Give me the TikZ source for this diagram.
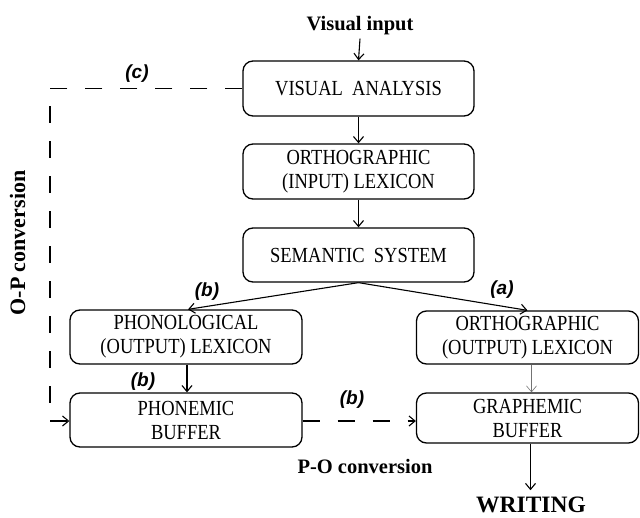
\documentclass[tikz,border=0pt]{standalone}
\usepackage{fontspec}
\setmainfont{Liberation Serif}
\newfontfamily\boxfont[FakeStretch=0.86]{Liberation Serif}
\newfontfamily\labfont{Liberation Sans}
\usetikzlibrary{arrows.meta}
\begin{document}
\begin{tikzpicture}[x=1pt,y=-1pt,
  box/.style={draw, line width=1.3pt, rounded corners=10pt, inner sep=0pt, align=center,
    font=\boxfont\fontsize{21.5}{24}\selectfont},
  arr/.style={-{Straight Barb[length=6pt,width=10pt]}, line width=1.1pt},
  dsh/.style={dash pattern=on 17pt off 18pt, line width=1.5pt},
  lab/.style={inner sep=0pt, font=\labfont\bfseries\itshape\fontsize{19}{19}\selectfont},
  ttl/.style={inner sep=0pt, font=\bfseries\fontsize{20.5}{20.5}\selectfont}]
\useasboundingbox (0,0) rectangle (640,517);
% boxes
\node[box, minimum width=231pt, minimum height=55pt] (va) at (358.5,88.5) {VISUAL\ \ ANALYSIS};
\node[box, minimum width=231pt, minimum height=55pt] (oi) at (358.5,171.5) {ORTHOGRAPHIC\\(INPUT)\ LEXICON};
\node[box, minimum width=231pt, minimum height=54pt] (ss) at (358.5,255) {SEMANTIC\ \ SYSTEM};
\node[box, minimum width=232pt, minimum height=54pt] (pl) at (186,337) {PHONOLOGICAL\\(OUTPUT)\ LEXICON};
\node[box, minimum width=222pt, minimum height=53pt] (oo) at (527.5,337.5) {ORTHOGRAPHIC\\(OUTPUT)\ LEXICON};
\node[box, minimum width=232pt, minimum height=54pt] (pb) at (186,420) {PHONEMIC\\BUFFER};
\node[box, minimum width=222pt, minimum height=50pt] (gb) at (527.5,418) {GRAPHEMIC\\BUFFER};
% titles
\node[ttl, anchor=base] (vi) at (360,30) {Visual input};
\node[ttl, anchor=base] (po) at (365,473) {P-O conversion};
\node[inner sep=0pt, anchor=base, rotate=90, font=\bfseries\fontsize{22}{22}\selectfont] (op) at (25,243) {O-P conversion};
\node[inner sep=0pt, anchor=base, font=\bfseries\fontsize{23.5}{23.5}\selectfont] (wr) at (531,512) {WRITING};
% labels
\node[lab] (lc) at (137,74) {(c)};
\node[lab] (lb1) at (207,292) {(b)};
\node[lab] (la) at (502,290) {(a)};
\node[lab] (lb2) at (143,382) {(b)};
\node[lab] (lb3) at (352,400) {(b)};
% connectors
\draw[arr] ([yshift=-4pt]vi.south) -- (va.north);
\draw[arr] (va.south) -- (oi.north);
\draw[arr] (oi.south) -- (ss.north);
\draw[arr] (ss.south) -- ([xshift=2pt]pl.north);
\draw[arr] (ss.south) -- (oo.north);
\draw[arr] ([xshift=1pt]pl.south) -- ([xshift=1pt]pl.south |- pb.north);
\draw[arr, line width=0.6pt, draw=black!55] ([xshift=4pt]oo.south) -- ([xshift=4pt]oo.south |- gb.north);
\draw[arr] ([xshift=3pt]gb.south) -- ([xshift=3pt,yshift=6pt]gb.south |- wr.north);
\coordinate (opc) at (50,88.5);
\draw[dsh, arr] (va.west) -- (opc) |- ([yshift=-1pt]pb.west);
\draw[dsh, arr] ([yshift=-1pt]pb.east) -- ([yshift=-1pt]pb.east -| gb.west);
\end{tikzpicture}
\end{document}
